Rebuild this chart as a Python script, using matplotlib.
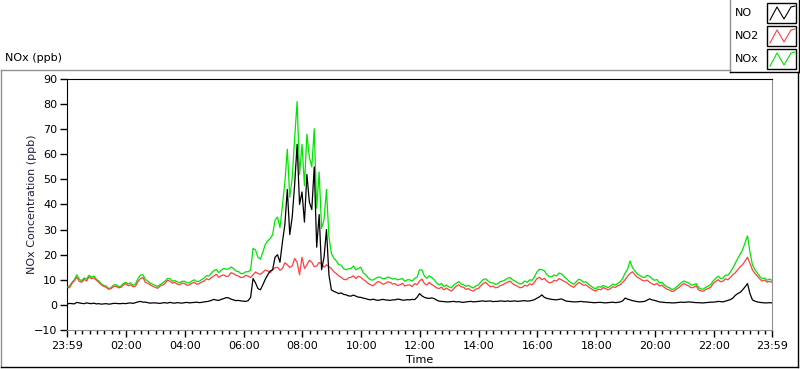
import matplotlib
matplotlib.use("Agg")
import matplotlib.pyplot as plt
from matplotlib.lines import Line2D
from matplotlib.patches import Rectangle
import numpy as np

plt.rcParams["font.family"] = ["DejaVu Sans"]

# ---------------------------------------------------------------------------
# Data: 5-minute readings starting at 23:59 (one row per hour)
# ---------------------------------------------------------------------------
no_ppb = [
    0.3, 0.6, 0.5, 0.4, 1.0, 0.8, 0.6, 0.5, 0.8, 0.6, 0.5, 0.7,
    0.4, 0.5, 0.3, 0.4, 0.5, 0.3, 0.4, 0.6, 0.6, 0.5, 0.5, 0.6,
    0.5, 0.7, 0.8, 0.6, 0.9, 1.2, 1.4, 1.1, 1.1, 0.9, 0.7, 0.8,
    0.8, 0.7, 0.6, 0.8, 0.9, 0.7, 1.0, 0.8, 0.7, 0.9, 0.8, 0.7,
    0.9, 1.0, 0.8, 0.9, 1.0, 1.1, 0.9, 1.0, 1.2, 1.3, 1.5, 1.8,
    2.2, 1.9, 1.8, 2.2, 2.5, 2.9, 2.8, 2.3, 2.0, 1.7, 1.8, 1.6,
    1.5, 1.4, 1.7, 3.0, 10.5, 8.8, 6.5, 6.0, 8.0, 10.2, 12.0, 13.5,
    14.0, 19.0, 20.0, 17.0, 25.0, 32.0, 46.0, 28.0, 35.0, 48.0, 64.0, 40.0,
    45.0, 33.0, 52.0, 41.0, 38.0, 55.0, 23.0, 36.0, 14.0, 19.0, 30.0, 12.0,
    6.0, 5.4, 5.0, 4.5, 4.8, 4.2, 4.0, 3.6, 3.5, 3.9, 3.5, 3.1,
    3.0, 2.7, 2.5, 2.2, 2.0, 2.3, 2.0, 1.8, 2.0, 2.2, 2.0, 1.9,
    1.8, 2.0, 2.0, 2.3, 2.2, 1.9, 1.9, 2.1, 2.0, 2.2, 2.1, 3.0,
    4.5, 3.6, 3.0, 2.7, 2.6, 2.8, 2.5, 1.9, 1.5, 1.4, 1.3, 1.2,
    1.2, 1.3, 1.4, 1.2, 1.3, 1.1, 1.0, 1.2, 1.3, 1.4, 1.2, 1.3,
    1.4, 1.5, 1.6, 1.4, 1.5, 1.6, 1.3, 1.4, 1.4, 1.6, 1.5, 1.4,
    1.6, 1.4, 1.5, 1.6, 1.4, 1.5, 1.6, 1.7, 1.5, 1.6, 1.8, 2.1,
    2.7, 3.2, 4.0, 3.0, 2.6, 2.4, 2.2, 2.1, 2.0, 2.2, 2.4, 1.9,
    1.5, 1.4, 1.3, 1.2, 1.2, 1.3, 1.4, 1.2, 1.2, 1.1, 1.0, 0.9,
    0.9, 1.0, 1.0, 0.9, 0.8, 0.9, 1.0, 1.1, 0.9, 1.0, 1.2, 1.6,
    2.7, 2.3, 2.0, 1.7, 1.5, 1.3, 1.2, 1.3, 1.4, 1.9, 2.4, 2.0,
    1.8, 1.5, 1.2, 1.1, 1.0, 0.9, 0.9, 0.8, 0.8, 0.9, 1.0, 1.1,
    1.0, 1.1, 1.2, 1.1, 1.0, 0.9, 0.9, 0.8, 0.8, 0.9, 1.0, 1.1,
    1.1, 1.2, 1.4, 1.3, 1.2, 1.5, 1.8, 2.1, 2.7, 3.8, 4.5, 5.0,
    6.0, 7.2, 8.5, 4.5, 2.0, 1.5, 1.2, 1.0, 0.9, 0.8, 0.8, 0.9,
    0.8,
]
no2_ppb = [
    7.2, 6.8, 8.5, 9.6, 11.0, 9.4, 9.0, 10.2, 9.5, 11.2, 10.5, 10.8,
    9.8, 9.0, 8.0, 7.4, 7.0, 6.2, 6.5, 7.3, 7.5, 6.8, 7.0, 7.9,
    8.5, 7.6, 8.0, 7.2, 7.5, 9.3, 10.5, 10.9, 9.0, 8.6, 8.0, 7.4,
    7.0, 6.6, 7.5, 7.9, 8.5, 9.8, 9.5, 8.7, 9.0, 8.3, 8.0, 8.7,
    8.5, 7.8, 8.0, 8.6, 9.0, 8.2, 8.5, 9.1, 9.5, 10.4, 10.0, 10.9,
    11.5, 12.2, 11.0, 11.6, 12.0, 11.3, 11.5, 12.8, 12.5, 11.8, 11.5, 10.9,
    11.0, 11.8, 11.5, 10.9, 12.0, 13.1, 12.5, 12.2, 13.0, 13.9, 13.5, 12.9,
    14.0, 14.8, 15.0, 13.8, 14.5, 16.8, 16.0, 14.9, 15.5, 18.5, 17.0, 12.0,
    19.0, 14.5, 16.0, 17.8, 17.0, 15.2, 15.5, 16.9, 16.5, 15.0, 16.0, 15.2,
    14.5, 13.2, 12.5, 11.6, 11.0, 10.2, 10.0, 10.8, 11.0, 11.6, 10.5, 11.4,
    11.0, 10.1, 9.5, 8.6, 8.0, 7.6, 8.5, 9.3, 9.0, 8.2, 8.5, 9.2,
    9.0, 8.3, 8.5, 7.7, 8.0, 8.6, 7.5, 7.9, 8.0, 7.3, 8.5, 8.0,
    9.5, 10.3, 8.5, 7.9, 9.0, 8.1, 7.5, 6.8, 6.5, 7.1, 6.0, 6.7,
    6.0, 5.5, 6.5, 7.4, 8.0, 7.2, 7.0, 6.2, 6.5, 5.8, 5.5, 6.3,
    6.5, 7.6, 8.5, 9.0, 8.0, 7.2, 7.5, 6.8, 7.0, 7.7, 8.0, 8.6,
    9.0, 9.5, 8.5, 7.9, 7.5, 6.8, 7.0, 7.8, 7.5, 8.4, 8.0, 9.1,
    10.5, 11.0, 10.0, 10.6, 9.5, 8.8, 9.0, 9.8, 9.5, 10.5, 10.0, 9.4,
    9.0, 8.1, 7.5, 7.0, 8.0, 8.9, 8.5, 7.8, 8.0, 7.2, 6.5, 5.9,
    5.5, 6.3, 6.0, 6.9, 6.5, 6.0, 6.5, 7.2, 7.0, 7.6, 8.0, 9.0,
    10.0, 11.4, 12.5, 13.2, 12.0, 11.0, 10.5, 9.8, 9.5, 9.9, 9.0, 8.4,
    8.0, 8.6, 7.5, 7.9, 7.0, 6.3, 6.0, 5.4, 5.5, 6.3, 7.0, 7.8,
    8.5, 8.0, 7.5, 6.8, 7.0, 7.6, 6.0, 5.5, 5.5, 6.2, 6.5, 7.1,
    8.5, 9.4, 10.0, 9.2, 9.5, 10.4, 10.0, 11.0, 12.0, 12.8, 14.0, 15.2,
    16.0, 17.5, 19.0, 16.5, 14.0, 12.6, 11.5, 10.3, 9.5, 9.9, 9.0, 9.4,
    9.0,
]
nox_ppb = [
    7.5, 7.4, 9.0, 10.0, 12.0, 10.2, 9.6, 10.7, 10.3, 11.8, 11.0, 11.5,
    10.2, 9.5, 8.3, 7.8, 7.5, 6.5, 6.9, 7.9, 8.1, 7.3, 7.5, 8.5,
    9.0, 8.3, 8.8, 7.8, 8.4, 10.5, 11.9, 12.0, 10.1, 9.5, 8.7, 8.2,
    7.8, 7.3, 8.1, 8.7, 9.4, 10.5, 10.5, 9.5, 9.7, 9.2, 8.8, 9.4,
    9.4, 8.8, 8.8, 9.5, 10.0, 9.3, 9.4, 10.1, 10.7, 11.7, 11.5, 12.7,
    13.7, 14.1, 12.8, 13.8, 14.5, 14.2, 14.3, 15.1, 14.5, 13.5, 13.3, 12.5,
    12.5, 13.2, 13.2, 13.9, 22.5, 21.9, 19.0, 18.2, 21.0, 24.1, 25.5, 26.4,
    28.0, 33.8, 35.0, 30.8, 39.5, 48.8, 62.0, 42.9, 50.5, 66.5, 81.0, 52.0,
    64.0, 47.5, 68.0, 58.8, 55.0, 70.2, 38.5, 52.9, 30.5, 34.0, 46.0, 27.2,
    20.5, 18.6, 17.5, 16.1, 15.8, 14.4, 14.0, 14.4, 14.5, 15.5, 14.0, 14.5,
    15.0, 12.8, 12.0, 10.8, 10.0, 9.9, 10.5, 11.1, 11.0, 10.4, 10.5, 11.1,
    10.8, 10.3, 10.5, 10.0, 10.2, 10.5, 9.4, 10.0, 10.0, 9.5, 10.6, 11.0,
    14.0, 13.9, 11.5, 10.6, 11.6, 10.9, 10.0, 8.7, 8.0, 8.5, 7.3, 7.9,
    7.2, 6.8, 7.9, 8.6, 9.3, 8.3, 8.0, 7.4, 7.8, 7.2, 6.7, 7.6,
    7.9, 9.1, 10.1, 10.4, 9.5, 8.8, 8.8, 8.2, 8.4, 9.3, 9.5, 10.0,
    10.6, 10.9, 10.0, 9.5, 8.9, 8.3, 8.6, 9.5, 9.0, 10.0, 9.8, 11.2,
    13.2, 14.2, 14.0, 13.6, 12.1, 11.2, 11.2, 11.9, 11.5, 12.7, 12.4, 11.3,
    10.5, 9.5, 8.8, 8.2, 9.2, 10.2, 9.9, 9.0, 9.2, 8.3, 7.5, 6.8,
    6.4, 7.3, 7.0, 7.8, 7.3, 6.9, 7.5, 8.3, 7.9, 8.6, 9.2, 10.6,
    12.7, 14.2, 17.5, 14.9, 13.5, 12.3, 11.7, 11.1, 10.9, 11.8, 11.4, 10.4,
    9.8, 10.1, 8.7, 9.0, 8.0, 7.2, 6.9, 6.2, 6.3, 7.2, 8.0, 8.9,
    9.5, 9.1, 8.7, 7.9, 8.0, 8.5, 6.9, 6.3, 6.3, 7.1, 7.5, 8.2,
    9.6, 10.6, 11.4, 10.5, 10.7, 11.9, 11.8, 13.1, 14.7, 16.6, 18.5, 20.2,
    22.0, 24.7, 27.5, 21.0, 16.0, 14.1, 12.7, 11.3, 10.4, 10.7, 9.8, 10.3,
    9.8,
]
hours = np.arange(len(no_ppb)) / 12.0

tick_labels = ["23:59", "02:00", "04:00", "06:00", "08:00", "10:00", "12:00",
               "14:00", "16:00", "18:00", "20:00", "22:00", "23:59"]
series_names = ["NO", "NO2", "NOx"]
series_colors = ["#000000", "#ff4040", "#00e600"]

W, H = 800, 369
fig = plt.figure(figsize=(W / 100, H / 100), dpi=100, facecolor="white")


def fx(px):
    return px / W


def fy(py):
    return 1 - py / H


ax = fig.add_axes([fx(67), fy(330), fx(772) - fx(67), fy(79) - fy(330)])
ax.plot(hours, nox_ppb, color=series_colors[2], lw=0.9, zorder=2)
ax.plot(hours, no2_ppb, color=series_colors[1], lw=0.9, zorder=3)
ax.plot(hours, no_ppb, color=series_colors[0], lw=0.9, zorder=4)

ax.set_xlim(0, 24)
ax.set_ylim(-10, 90)
ax.set_yticks(np.arange(-10, 91, 10))
ax.tick_params(axis="y", length=5, width=1, labelsize=8, pad=2, direction="out")

major = [0] + [2 * k + 1 / 60 for k in range(1, 12)] + [24]
ax.set_xticks(major)
ax.set_xticklabels(tick_labels)
ax.set_xticks([1 / 60 + 0.25 * k for k in range(1, 96) if k % 8 != 0], minor=True)
ax.tick_params(axis="x", which="major", length=5, width=1, labelsize=8, pad=3)
ax.tick_params(axis="x", which="minor", length=3, width=1)

for side in ("left", "top"):
    ax.spines[side].set_color("black")
for side in ("right", "bottom"):
    ax.spines[side].set_color("#909090")

ax.set_ylabel("NOx Concentration (ppb)", fontsize=8, color="#202040")
ax.yaxis.set_label_coords(-0.043, 0.5)
ax.set_xlabel("Time", fontsize=8, labelpad=3)

# panel frame
fig.add_artist(Line2D([fx(0.5), fx(0.5)], [fy(70), fy(367)], color="#909090", lw=1))
fig.add_artist(Line2D([fx(0.5), fx(730)], [fy(70), fy(70)], color="#909090", lw=1))
fig.add_artist(Line2D([fx(0.5), fx(798)], [fy(367), fy(367)], color="black", lw=1))
fig.add_artist(Line2D([fx(798), fx(798)], [fy(367), fy(72)], color="black", lw=1))

# legend box
fig.add_artist(Line2D([fx(730), fx(730)], [fy(0), fy(72)], color="#909090", lw=1))
fig.add_artist(Line2D([fx(730), fx(799)], [fy(72), fy(72)], color="black", lw=1))
fig.add_artist(Line2D([fx(799), fx(799)], [fy(0), fy(72)], color="black", lw=1))

for i, (name, col) in enumerate(zip(series_names, series_colors)):
    yc = 13 + 23 * i
    fig.text(fx(735), fy(yc), name, fontsize=8, va="center", ha="left")
    fig.add_artist(Rectangle((fx(767), fy(yc + 10)), fx(29), fy(yc - 10) - fy(yc + 10),
                             facecolor="white", edgecolor="black", lw=1))
    zx = [770, 777, 784, 791, 795]
    zy = [yc + 7, yc - 6, yc + 6, yc - 6, yc - 7]
    fig.add_artist(Line2D([fx(v) for v in zx], [fy(v) for v in zy], color=col, lw=0.8))

fig.text(fx(5), fy(58), "NOx (ppb)", fontsize=8, va="center", ha="left")

fig.savefig("out.png", dpi=100, facecolor="white")
